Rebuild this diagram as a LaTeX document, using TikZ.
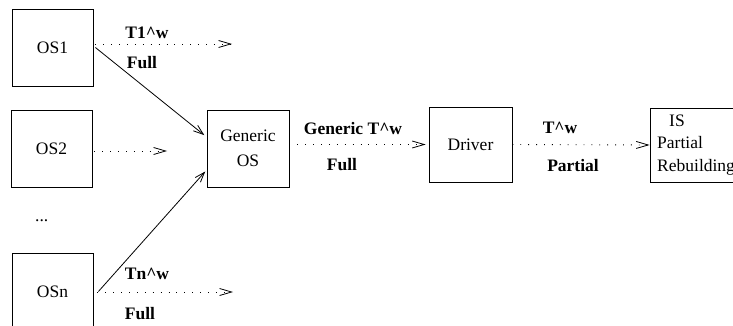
\documentclass[tikz,border=0pt]{standalone}
\usepackage{fontspec}
\setmainfont{Liberation Serif}
\usetikzlibrary{arrows.meta}
\begin{document}
\begin{tikzpicture}[x=1pt,y=-1pt,
  txt/.style={font=\fontsize{17.5}{22.5}\selectfont},
  box/.style={draw, line width=0.8pt, minimum width=81pt, minimum height=77pt, inner sep=0pt, txt},
  lbl/.style={font=\fontsize{17.5}{22.5}\selectfont\bfseries, inner sep=0pt},
  dotarrow/.style={line width=0.9pt, dash pattern=on 0.9pt off 7pt, -{Straight Barb[length=12pt,width=7pt,line width=0.8pt]}},
  solarrow/.style={line width=0.8pt, -{Straight Barb[length=10pt,width=7pt,line width=0.8pt]}}]
\useasboundingbox (0,0) rectangle (733,326);
% boxes
\node[box] (OS1) at (52.5,47.5) {OS1};
\node[box] (OS2) at (51.5,148.5) {OS2};
\node[box] (OSn) at (52.5,291.5) {OSn};
\node[txt, anchor=base west, inner sep=0pt] (dots) at (35,221) {...};
\node[box, minimum width=82pt, align=center] (GOS) at (248,148.5) {Generic\\[2pt]OS};
\node[box, minimum width=83pt, minimum height=75pt] (Drv) at (470.5,144.5) {Driver};
\node[box, minimum width=90pt, minimum height=74pt] (IS) at (695,145) {};
\node[txt, anchor=west, align=left, inner sep=0pt] (IStext) at (657,145) {\hspace{12pt}IS\\Partial\\Rebuilding};
% free ends
\coordinate (e1) at (232,44);
\coordinate (e2) at (167,151);
\coordinate (en) at (233,292);
% dotted arrows
\draw[dotarrow] ([xshift=2pt]OS1.east |- e1) -- (e1);
\draw[dotarrow] ([xshift=2pt]OS2.east |- e2) -- (e2);
\draw[dotarrow] ([xshift=4pt]OSn.east |- en) -- (en);
\draw[dotarrow, shorten >=3pt] (GOS.east |- Drv.west) -- (Drv.west);
\draw[dotarrow] (Drv.east) -- (IS.west);
% solid arrows
\draw[solarrow, shorten >=3pt] ([xshift=2pt]OS1.east) -- ([yshift=11.5pt]GOS.west);
\draw[solarrow, shorten >=2pt] ([xshift=5pt]OSn.east) -- ([yshift=-21.5pt]GOS.west);
% labels
\node[lbl] (l1) at (147,33) {T1\textasciicircum w};
\node[lbl] (l1b) at (142,63) {Full};
\node[lbl] (ln) at (147,274) {Tn\textasciicircum w};
\node[lbl] (lnb) at (140,314) {Full};
\node[lbl] (lg) at (353,129) {Generic T\textasciicircum w};
\node[lbl] (lgb) at (342,165) {Full};
\node[lbl] (ld) at (560,128) {T\textasciicircum w};
\node[lbl] (ldb) at (573,166) {Partial};
\end{tikzpicture}
\end{document}
